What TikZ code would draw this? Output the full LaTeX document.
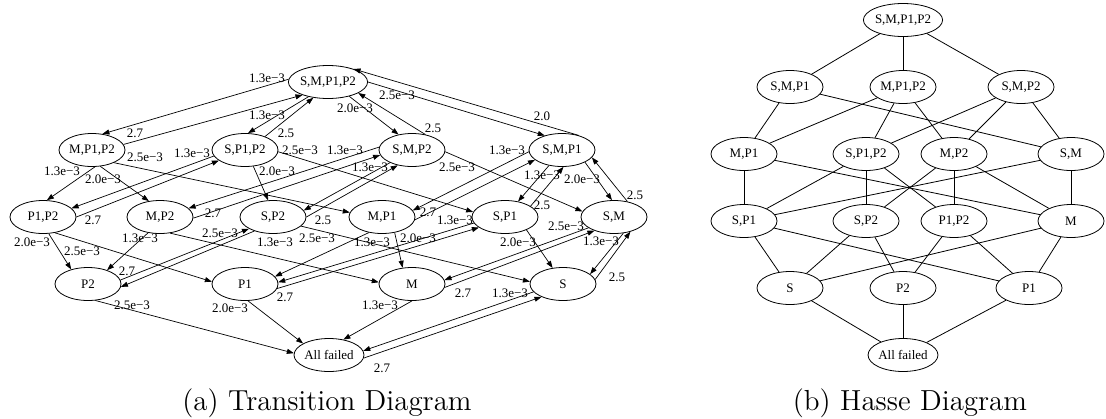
\documentclass[tikz,border=0pt]{standalone}
\usepackage{fontspec}
\newfontfamily\tms{Liberation Serif}
\newfontfamily\capfont[Extension=.otf]{lmroman12-regular}
\usetikzlibrary{shapes.geometric,arrows.meta}
\begin{document}
\begin{tikzpicture}[x=1pt,y=-1pt,
  st/.style={ellipse, draw, line width=0.8pt, minimum width=66pt, minimum height=33pt, inner sep=0pt, font=\tms\fontsize{13}{13}\selectfont},
  tr/.style={-{Triangle[length=7pt,width=5pt]}, line width=0.7pt},
  lbl/.style={font=\tms\fontsize{13}{13}\selectfont, inner sep=0pt},
  hl/.style={line width=0.8pt},
  captxt/.style={font=\capfont\fontsize{29}{30}\selectfont, anchor=base, inner sep=0pt}]
\useasboundingbox (0,0) rectangle (1106,418);
% ---------- (a) transition diagram ----------
\node[st] (a0) at (328,82) {S,M,P1,P2};
\node[st] (b1) at (92,150) {M,P1,P2};
\node[st] (b2) at (245,150) {S,P1,P2};
\node[st] (b3) at (412,150) {S,M,P2};
\node[st] (b4) at (562,150) {S,M,P1};
\node[st] (c1) at (43,217) {P1,P2};
\node[st] (c2) at (160,217) {M,P2};
\node[st] (c3) at (273,217) {S,P2};
\node[st] (c4) at (382,217) {M,P1};
\node[st] (c5) at (505,217) {S,P1};
\node[st] (c6) at (614,217) {S,M};
\node[st] (d1) at (88,284) {P2};
\node[st] (d2) at (245,284) {P1};
\node[st] (d3) at (412,284) {M};
\node[st] (d4) at (563,284) {S};
\node[st] (e0) at (329,355) {All failed};

\draw[tr] (a0.176) -- (b1.57);  \node[lbl] (l1) at (267,78) {1.3e−3};
\draw[tr] (b1.10) -- (a0.207);  \node[lbl] (l2) at (135,133) {2.7};
\draw[tr] (a0.217) -- (b2.80);  \node[lbl] (l3) at (267,115) {1.3e−3};
\draw[tr] (b2.34) -- (a0.227);  \node[lbl] (l4) at (286,133) {2.5};
\draw[tr] (a0.326) -- (b3.131); \node[lbl] (l5) at (355,108) {2.0e−3};
\draw[tr] (b3.49) -- (a0.340);  \node[lbl] (l6) at (433,128) {2.5};
\draw[tr] (a0.0) -- (b4.140);   \node[lbl] (l7) at (397,95) {2.5e−3};
\draw[tr] (b4.41) -- (a0.27);   \node[lbl] (l8) at (542,116) {2.0};
\draw[tr] (b1.280) -- (c1.77);  \node[lbl] (l9) at (62,171) {1.3e−3};
\draw[tr] (b1.297) -- (c2.125); \node[lbl] (l10) at (103,179) {2.0e−3};
\draw[tr] (b1.330) -- (c4.172); \node[lbl] (l11) at (145,157) {2.5e−3};
\draw[tr] (c1.0) -- (b2.202);   \node[lbl] (l12) at (93,220) {2.7};
\draw[tr] (b2.191) -- (c1.17);  \node[lbl] (l13) at (192,153) {1.3e−3};
\draw[tr] (b2.297) -- (c3.106); \node[lbl] (l14) at (277,171) {2.0e−3};
\draw[tr] (b2.357) -- (c5.171); \node[lbl] (l15) at (300,150) {2.5e−3};
\draw[tr] (c2.358) -- (b3.189); \node[lbl] (l16) at (213,213) {2.7};
\draw[tr] (b3.175) -- (c2.17);  \node[lbl] (l17) at (345,150) {1.3e−3};
\draw[tr] (c3.0) -- (b3.227);   \node[lbl] (l18) at (323,220) {2.5};
\draw[tr] (b3.210) -- (c3.12);  \node[lbl] (l19) at (370,167) {1.3e−3};
\draw[tr] (b3.357) -- (c6.170); \node[lbl] (l20) at (457,167) {2.5e−3};
\draw[tr] (c4.355) -- (b4.200); \node[lbl] (l21) at (428,212) {2.7};
\draw[tr] (b4.183) -- (c4.12);  \node[lbl] (l22) at (507,150) {1.3e−3};
\draw[tr] (b4.230) -- (c5.50);  \node[lbl] (l23) at (542,175) {1.3e−3};
\draw[tr] (c5.23) -- (b4.275);  \node[lbl] (l24) at (542,205) {2.5};
\draw[tr] (b4.332) -- (c6.97);  \node[lbl] (l25) at (582,179) {2.0e−3};
\draw[tr] (c6.49) -- (b4.346);  \node[lbl] (l26) at (635,195) {2.5};
\draw[tr] (c1.289) -- (d1.139); \node[lbl] (l27) at (32,242) {2.0e−3};
\draw[tr] (c1.307) -- (d2.176); \node[lbl] (l28) at (82,251) {2.5e−3};
\draw[tr] (c2.233) -- (d1.36);  \node[lbl] (l29) at (140,238) {1.3e−3};
\draw[tr] (c2.302) -- (d3.177); \node[lbl] (l30) at (220,233) {2.5e−3};
\draw[tr] (d1.7) -- (c3.206);   \node[lbl] (l31) at (127,271) {2.7};
\draw[tr] (c3.217) -- (d1.355); \node[lbl] (l32) at (275,242) {1.3e−3};
\draw[tr] (c3.342) -- (d4.176); \node[lbl] (l33) at (317,238) {2.5e−3};
\draw[tr] (c4.230) -- (d2.14);  \node[lbl] (l34) at (372,242) {1.3e−3};
\draw[tr] (c4.309) -- (d3.120); \node[lbl] (l35) at (418,238) {2.0e−3};
\draw[tr] (c5.191) -- (d2.3);   \node[lbl] (l36) at (455,220) {1.3e−3};
\draw[tr] (d2.352) -- (c5.202); \node[lbl] (l37) at (285,297) {2.7};
\draw[tr] (c5.329) -- (d4.123); \node[lbl] (l38) at (518,242) {2.0e−3};
\draw[tr] (c6.203) -- (d3.7);   \node[lbl] (l39) at (566,226) {2.5e−3};
\draw[tr] (d3.354) -- (c6.215); \node[lbl] (l40) at (463,293) {2.7};
\draw[tr] (c6.300) -- (d4.20);  \node[lbl] (l41) at (601,241) {1.3e−3};
\draw[tr] (d4.8) -- (c6.318);   \node[lbl] (l42) at (617,277) {2.5};
\draw[tr] (d1.294) -- (e0.177); \node[lbl] (l43) at (132,305) {2.5e−3};
\draw[tr] (d2.280) -- (e0.156); \node[lbl] (l44) at (230,308) {2.0e−3};
\draw[tr] (d3.270) -- (e0.47);  \node[lbl] (l45) at (380,305) {1.3e−3};
\draw[tr] (d4.195) -- (e0.7);   \node[lbl] (l46) at (510,293) {1.3e−3};
\draw[tr] (e0.355) -- (d4.211); \node[lbl] (l47) at (382,368) {2.7};

\node[captxt] (capa) at (327,410) {(a) Transition Diagram};
% ---------- (b) Hasse diagram ----------
\node[st] (h0) at (903,20) {S,M,P1,P2};
\node[st] (h1) at (790,87) {S,M,P1};
\node[st] (h2) at (903,87) {M,P1,P2};
\node[st] (h3) at (1021,87) {S,M,P2};
\node[st] (h4) at (744,154) {M,P1};
\node[st] (h5) at (866,154) {S,P1,P2};
\node[st] (h6) at (954,154) {M,P2};
\node[st] (h7) at (1071,154) {S,M};
\node[st] (h8) at (744,221) {S,P1};
\node[st] (h9) at (866,221) {S,P2};
\node[st] (h10) at (954,221) {P1,P2};
\node[st] (h11) at (1071,221) {M};
\node[st] (h12) at (790,288) {S};
\node[st] (h13) at (903,288) {P2};
\node[st] (h14) at (1029,288) {P1};
\node[st] (h15) at (903,355) {All failed};
\foreach \u/\v in {h0/h1,h0/h2,h0/h3,h1/h4,h1/h7,h2/h4,h2/h5,h2/h6,h3/h5,h3/h6,h3/h7,
  h4/h8,h4/h11,h5/h8,h5/h9,h5/h10,h6/h9,h6/h10,h6/h11,h7/h11,h7/h8,
  h8/h12,h8/h14,h9/h12,h9/h13,h10/h13,h10/h14,h11/h12,h11/h14,h12/h15,h13/h15,h14/h15}
  \draw[hl] (\u) -- (\v);
\node[captxt] (capb) at (910,410) {(b) Hasse Diagram};
\end{tikzpicture}
\end{document}
